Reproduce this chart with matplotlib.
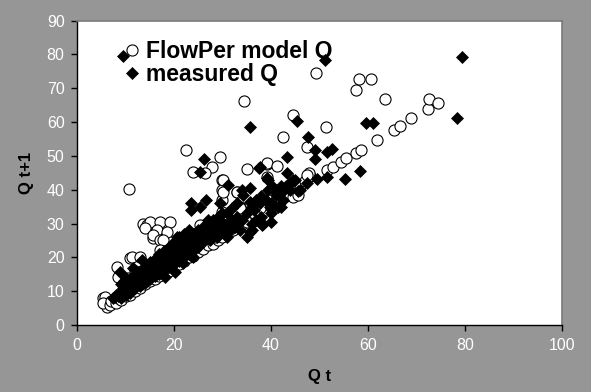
import numpy as np
import matplotlib.pyplot as plt

plt.rcParams['font.family'] = ['Liberation Sans', 'DejaVu Sans']

# FlowPer model Q (open circles)
model_x = [5.4, 6.1, 5.8, 5.4, 6.8, 7.0, 8.0, 8.5, 9.0, 10.0, 11.0, 12.0, 13.0, 14.0, 15.0,
           16.0, 17.0, 18.0, 19.0, 20.0, 21.0, 22.0, 23.0, 24.0, 25.0, 26.0, 27.0, 28.0, 29.0,
           30.0, 31.0, 32.0, 33.0, 34.0, 35.0, 36.0, 37.0, 38.0, 39.0, 40.0, 41.0, 42.0, 43.0,
           44.0, 45.0, 46.0, 47.0, 48.0,
           8.2, 8.5, 10.9, 11.3, 13.0, 10.8, 13.7, 14.4, 15.1, 17.1, 19.2, 14.0, 16.4, 18.5,
           15.7, 15.7, 17.1, 17.8, 25.4, 29.5, 22.5, 29.5, 27.8, 24.0, 26.4, 35.0, 39.1, 29.8,
           30.0, 32.9, 29.8, 29.8, 33.6, 33.6, 39.1, 41.2, 39.1, 44.5, 42.5, 47.5, 47.8, 49.3,
           51.3, 51.5, 52.8, 54.4, 55.5, 57.5, 58.5, 57.5, 58.1, 60.6, 61.8, 63.6, 65.4, 66.6,
           68.8, 72.3, 72.5, 74.4, 34.4, 30.2, 30.2, 32.9, 33.6, 32.2, 26.0, 17.1, 19.9, 21.9,
           37.7, 37.0, 43.2, 44.6, 45.5, 47.4, 12.5, 14.5, 9.5, 21.0, 23.5, 27.5, 20.5, 36.5,
           41.5, 43.8, 28.5, 31.5, 10.5, 12.0]
model_y = [7.9, 5.4, 8.4, 6.4, 5.9, 7.0, 6.5, 8.0, 7.5, 8.5, 9.0, 10.0, 11.0, 12.0, 13.0,
           13.5, 14.5, 15.5, 16.0, 17.0, 18.0, 19.0, 20.0, 20.5, 21.5, 22.5, 23.5, 24.0, 25.0,
           26.0, 27.0, 28.0, 29.0, 30.0, 30.5, 31.5, 32.5, 33.5, 34.0, 35.0, 36.0, 37.0, 38.0,
           39.0, 40.0, 41.0, 42.5, 44.0,
           17.2, 14.3, 19.7, 20.2, 20.2, 40.2, 30.0, 29.6, 30.5, 30.5, 30.5, 28.6, 28.1, 27.6,
           25.6, 26.6, 25.1, 25.1, 29.6, 29.6, 51.6, 49.6, 46.8, 45.3, 44.8, 46.0, 47.6, 43.0,
           39.9, 39.4, 36.9, 33.5, 35.0, 32.0, 48.0, 47.0, 43.8, 62.1, 55.7, 52.7, 44.8, 74.5,
           58.4, 45.8, 46.6, 48.1, 49.3, 50.9, 51.8, 69.5, 72.7, 72.8, 54.6, 66.9, 57.6, 58.9,
           61.1, 63.9, 66.7, 65.7, 66.2, 42.9, 39.4, 39.4, 34.5, 28.1, 26.1, 22.2, 22.2, 24.1,
           34.5, 32.0, 38.9, 37.9, 38.5, 44.3, 15.5, 17.5, 12.0, 21.0, 23.0, 27.0, 19.5, 33.0,
           38.0, 40.5, 26.0, 28.5, 14.0, 16.0]

# measured Q (filled diamonds)
meas_x = [7.5, 8.0, 8.5, 9.0, 9.0, 9.5, 10.0, 10.0, 10.5, 11.0, 11.0, 11.5, 12.0, 12.0, 12.5,
          13.0, 13.0, 8.9, 11.6, 13.3, 9.5,
          13.5, 14.0, 14.0, 14.5, 15.0, 15.0, 15.5, 16.0, 16.0, 16.5, 17.0, 17.0, 17.5, 18.0,
          18.0, 18.1, 18.5, 19.0, 19.0, 19.5, 20.0, 20.0, 20.2, 19.9, 21.2,
          21.0, 21.0, 22.0, 22.0, 22.5, 23.0, 23.0, 23.3, 23.6, 23.6, 24.0, 24.0, 24.7, 25.0,
          25.4, 25.4, 25.5, 26.0, 26.2, 26.7, 26.7, 27.0, 27.1, 27.5, 28.0, 28.8, 29.0, 29.5,
          29.5, 29.8, 30.0, 30.9, 31.2,
          31.5, 32.0, 32.5, 33.0, 33.6, 34.0, 34.3, 35.0, 35.7, 35.7, 35.7, 35.7, 36.0, 36.4,
          37.0, 37.6, 37.7, 37.7, 38.1, 38.4, 39.1, 39.4, 39.8, 40.0, 40.5, 41.0, 41.5, 42.0,
          42.5, 43.2, 43.4, 44.0, 45.3, 45.6, 46.0, 47.4, 47.7, 49.1, 49.1, 49.4, 51.2, 51.5,
          52.5, 51.5, 55.3, 58.4, 59.5, 61.1, 78.3, 79.3,
          40.4, 44.6, 41.9, 39.4, 17.1, 20.6, 20.9, 23.3, 26.0, 28.8, 30.2, 24.0, 21.9,
          14.0, 15.0, 16.0, 17.0, 18.0, 19.0, 20.0, 21.0, 22.0, 22.0, 23.0, 24.0, 25.0, 26.0,
          27.0, 28.0, 28.0, 29.0, 30.0, 31.0, 32.0, 33.0, 31.0, 33.0, 34.0, 35.0, 36.0, 37.0,
          38.0, 39.0, 40.0, 41.0, 42.0, 43.0, 44.0, 45.0, 40.0, 42.0, 38.0, 36.0, 20.0, 21.0,
          22.0, 23.0, 24.0, 25.0, 26.0, 27.0, 28.0, 29.0, 30.0, 17.0, 16.0, 15.0, 13.0, 12.0,
          11.0, 10.0, 9.0]
meas_y = [8.0, 9.0, 8.5, 10.0, 8.0, 11.0, 9.0, 12.0, 10.0, 11.0, 9.5, 12.5, 11.0, 13.0, 12.0,
          14.0, 11.5, 15.8, 16.8, 19.2, 79.4,
          13.0, 15.0, 12.5, 14.0, 16.0, 13.5, 15.0, 17.0, 14.5, 16.0, 18.0, 15.0, 17.0, 19.0,
          16.0, 14.3, 18.0, 20.0, 17.0, 19.0, 21.0, 18.0, 15.8, 24.1, 25.6,
          22.0, 19.0, 23.0, 20.0, 21.5, 24.0, 21.0, 26.1, 34.0, 36.0, 25.0, 22.0, 25.1, 23.0,
          35.0, 45.1, 26.0, 24.5, 49.0, 36.9, 26.6, 27.5, 29.0, 25.0, 28.0, 26.1, 30.0, 36.0,
          30.0, 30.5, 27.5, 26.1, 41.4,
          28.0, 31.0, 29.0, 32.0, 28.1, 39.9, 38.4, 26.1, 40.4, 36.4, 27.6, 58.6, 28.1, 34.0,
          31.0, 46.3, 36.0, 46.8, 29.6, 30.0, 43.4, 42.9, 35.0, 30.3, 40.4, 38.5, 35.0, 41.0,
          37.0, 44.8, 49.7, 40.0, 60.4, 39.7, 39.9, 41.9, 55.5, 51.7, 49.0, 43.3, 78.3, 51.2,
          51.9, 43.6, 43.1, 45.6, 59.6, 59.6, 61.1, 79.1,
          40.9, 42.9, 38.9, 39.9, 20.2, 26.1, 22.2, 25.1, 29.0, 27.1, 30.0, 20.2, 18.2,
          17.0, 18.5, 19.5, 21.0, 22.0, 23.0, 24.5, 26.0, 27.0, 25.0, 28.0, 27.0, 28.0, 28.0,
          31.0, 31.0, 29.0, 32.0, 33.0, 33.0, 34.5, 36.0, 30.0, 30.0, 31.0, 33.0, 35.0, 37.0,
          38.0, 37.0, 36.0, 40.0, 39.0, 41.0, 42.0, 43.0, 33.0, 35.0, 32.0, 30.0, 20.0, 23.0,
          22.5, 25.5, 24.0, 25.5, 27.0, 26.5, 27.0, 28.0, 29.0, 19.5, 18.0, 16.5, 16.0, 15.0,
          13.5, 14.0, 12.0]

x_ticks = [0, 20, 40, 60, 80, 100]
y_ticks = [0, 10, 20, 30, 40, 50, 60, 70, 80, 90]

bg = '#969696'

fig = plt.figure(figsize=(5.91, 3.92), dpi=100, facecolor=bg)
ax = fig.add_axes([0.1303, 0.1709, 0.8206, 0.7768])
ax.set_facecolor('white')

# model first, measured on top
ax.plot(model_x, model_y, 'o', markersize=8, markerfacecolor='white',
        markeredgecolor='black', markeredgewidth=0.8, label='FlowPer model Q')
ax.plot(meas_x, meas_y, 'D', markersize=6, markerfacecolor='black',
        markeredgecolor='black', markeredgewidth=0.5, label='measured Q')

ax.set_xlim(0, 100)
ax.set_ylim(0, 90)
ax.set_xticks(x_ticks)
ax.set_yticks(y_ticks)
ax.tick_params(direction='out', length=4, width=1, colors='black', labelcolor='white',
               labelsize=11.5, pad=5)

for s in ['left', 'bottom']:
    ax.spines[s].set_color('black')
    ax.spines[s].set_linewidth(1)
for s in ['top', 'right']:
    ax.spines[s].set_color('#7a7a7a')
    ax.spines[s].set_linewidth(1.2)

ax.set_xlabel('Q t', fontsize=12, fontweight='bold', labelpad=12)
ax.set_ylabel('Q t+1', fontsize=12, fontweight='bold', labelpad=9)

ax.legend(loc='upper left', bbox_to_anchor=(0.07, 0.965), frameon=False,
          prop={'size': 16.5, 'weight': 'bold'}, handletextpad=0.15,
          labelspacing=0.0, borderaxespad=0, handlelength=1.0)

plt.savefig('out.png', dpi=100, facecolor=bg)
